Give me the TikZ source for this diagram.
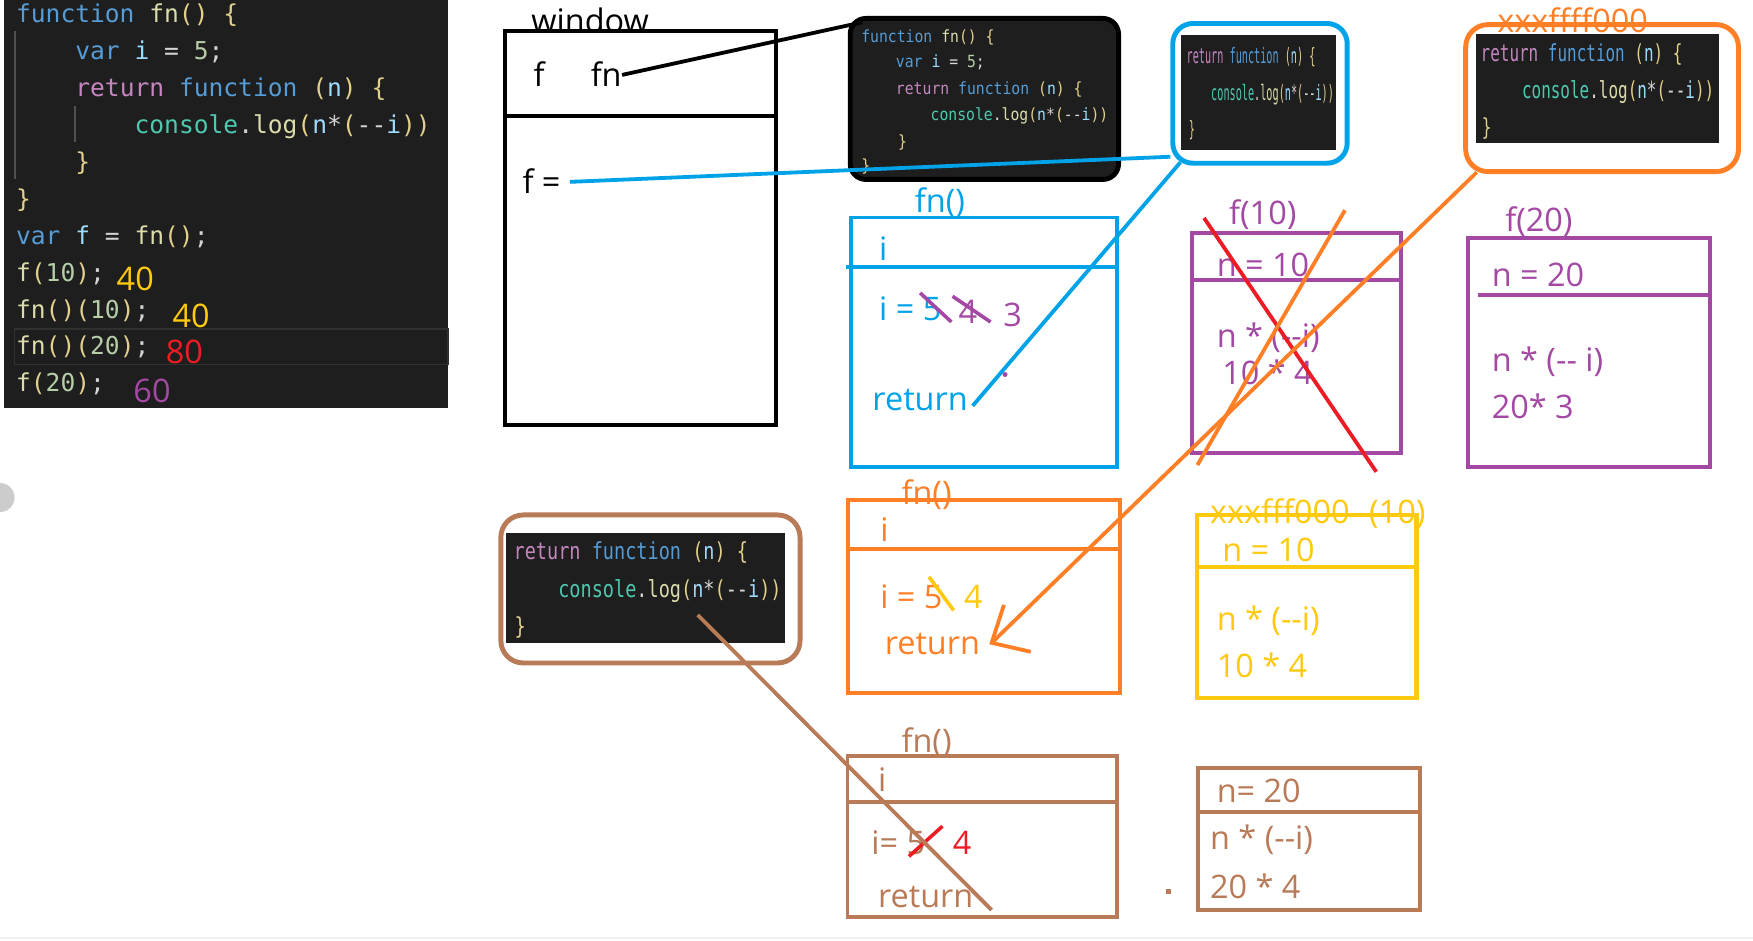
\documentclass[tikz,border=0pt]{standalone}
\usepackage{fontspec}
\usepackage{xcolor}
\setmainfont{Open Sans}
\newfontfamily\handfont[Ligatures=TeXOff]{Open Sans}
\newfontfamily\jsfont[Ligatures=TeXOff]{DejaVu Sans Mono}
\newfontfamily\jsfontA[Ligatures=TeXOff,FakeStretch=0.88]{DejaVu Sans Mono}
\newfontfamily\jsfontB[Ligatures=TeXOff,FakeStretch=0.48]{DejaVu Sans Mono}
\newfontfamily\jsfontC[Ligatures=TeXOff,FakeStretch=0.68]{DejaVu Sans Mono}
\newfontfamily\jsfontD[Ligatures=TeXOff,FakeStretch=0.79]{DejaVu Sans Mono}
\usetikzlibrary{positioning}

% editor colours
\definecolor{codebg}{HTML}{1E1E1E}
\definecolor{jskw}{HTML}{569CD6}
\definecolor{jsret}{HTML}{C586C0}
\definecolor{jsfn}{HTML}{DCDCAA}
\definecolor{jsvar}{HTML}{9CDCFE}
\definecolor{jsnum}{HTML}{B5CEA8}
\definecolor{jscls}{HTML}{4EC9B0}
\definecolor{jsp}{HTML}{D4D4D4}
\definecolor{jsbr}{HTML}{E2D08C}
% pen colours
\definecolor{pblue}{HTML}{00A2E8}
\definecolor{ppurple}{HTML}{A349A4}
\definecolor{porange}{HTML}{FF7F27}
\definecolor{pred}{HTML}{ED1C24}
\definecolor{pyellow}{HTML}{FFC90E}
\definecolor{pbrown}{HTML}{B97A57}

\newcommand\jK[1]{\textcolor{jskw}{#1}}
\newcommand\jR[1]{\textcolor{jsret}{#1}}
\newcommand\jF[1]{\textcolor{jsfn}{#1}}
\newcommand\jV[1]{\textcolor{jsvar}{#1}}
\newcommand\jN[1]{\textcolor{jsnum}{#1}}
\newcommand\jC[1]{\textcolor{jscls}{#1}}
\newcommand\jP[1]{\textcolor{jsp}{#1}}
\newcommand\jB[1]{\textcolor{jsbr}{#1}}
\newcommand\retline{\jR{return} \jK{function} \jB{(}\jV{n}\jB{)} \jB{\{}}
\newcommand\logline{\jC{console}\jP{.}\jF{log}\jB{(}\jV{n}\jP{*}\jB{(}\jP{-{}-}\jV{i}\jB{))}}

\begin{document}
\begin{tikzpicture}[x=0.5pt, y=-0.5pt,
    pen/.style={line width=1.7pt},
    bluepen/.style={pblue, line width=1.7pt},
    orangepen/.style={porange, line width=1.7pt},
    brownpen/.style={pbrown, line width=1.7pt},
    hand/.style={font=\handfont\fontsize{14.5}{16}\selectfont, anchor=west, inner sep=0pt, text height=13pt, text depth=3pt},
    jsmain/.style={font=\jsfont\fontsize{11}{13}\selectfont, anchor=west, inner sep=0pt, text height=11pt, text depth=2.5pt},
    jsA/.style={font=\jsfontA\fontsize{7.5}{9}\selectfont, anchor=west, inner sep=0pt, text height=6.5pt, text depth=1.7pt},
    jsB/.style={font=\jsfontB\fontsize{9.5}{11}\selectfont, anchor=west, inner sep=0pt, text height=8pt, text depth=2.1pt},
    jsC/.style={font=\jsfontC\fontsize{10.5}{12}\selectfont, anchor=west, inner sep=0pt, text height=8.7pt, text depth=2.3pt},
    jsD/.style={font=\jsfontD\fontsize{10.5}{12}\selectfont, anchor=west, inner sep=0pt, text height=8.7pt, text depth=2.3pt},
    snapbox/.style={rounded corners=9pt, line width=2.2pt, inner sep=0pt},
]
\useasboundingbox (0,0) rectangle (1568,841);
\fill[white] (0,0) rectangle (1568,841);
\fill[gray!40] (0,445) circle (13);
\draw[gray!12, line width=1pt] (0,839) -- (1568,839);

% source code
\fill[codebg] (4,0) rectangle (401,365);
\draw[white!22!codebg, line width=0.6pt] (13.5,28) -- (13.5,160) (67,95) -- (67,127);
\draw[white!8!codebg, line width=0.8pt] (13,294) rectangle (401,326);
\node[jsmain] (l1) at (14,12) {\jK{function} \jF{fn}\jB{() \{}};
\node[jsmain] (l2) at (67,45) {\jK{var} \jV{i} \jP{=} \jN{5}\jP{;}};
\node[jsmain] (l3) at (67,78) {\retline};
\node[jsmain] (l4) at (120,111) {\logline};
\node[jsmain] (l5) at (67,144) {\jB{\}}};
\node[jsmain] (l6) at (14,177) {\jB{\}}};
\node[jsmain] (l7) at (14,210) {\jK{var} \jV{f} \jP{=} \jF{fn}\jB{()}\jP{;}};
\node[jsmain] (l8) at (14,243) {\jF{f}\jB{(}\jN{10}\jB{)}\jP{;}};
\node[jsmain] (l9) at (14,276) {\jF{fn}\jB{()(}\jN{10}\jB{)}\jP{;}};
\node[jsmain] (l10) at (14,309) {\jF{fn}\jB{()(}\jN{20}\jB{)}\jP{;}};
\node[jsmain] (l11) at (14,342) {\jF{f}\jB{(}\jN{20}\jB{)}\jP{;}};
\node[hand, text=pyellow] (r1) at (104,250) {40};
\node[hand, text=pyellow] (r2) at (154,283) {40};
\node[hand, text=pred] (r3) at (148,315) {80};
\node[hand, text=ppurple] (r4) at (119,350) {60};

% window
\draw[pen] (451.5,28) rectangle (694,380);
\draw[pen] (451.5,104) -- (694,104);
\node[hand] (win) at (475,19) {window};
\node[hand] (fvar) at (477,67) {f};
\node[hand] (fnname) at (528,67) {fn};
\node[hand] (feq) at (467,163) {f =};

% fn snapshot
\node[snapbox, draw=black, fill=codebg, minimum width=120pt, minimum height=72pt, rounded corners=7pt] (fncode) at (880.5,88.5) {};
\node[jsA] (c1) at (770,33) {\jK{function} \jF{fn}\jB{() \{}};
\node[jsA] (c2) at (801,56) {\jK{var} \jV{i} \jP{=} \jN{5}\jP{;}};
\node[jsA] (c3) at (801,80) {\retline};
\node[jsA] (c4) at (832,103) {\logline};
\node[jsA] (c5) at (803,127) {\jB{\}}};
\node[jsA] (c6) at (770,149) {\jB{\}}};

% returned function, blue
\node[snapbox, draw=pblue, minimum width=78pt, minimum height=62.5pt] (retblue) at (1127,83.5) {};
\fill[codebg] (1056,31) rectangle (1195,134);
\node[jsB] (b1) at (1061,51) {\retline};
\node[jsB] (b2) at (1083,84) {\logline};
\node[jsB] (b3) at (1063,116) {\jB{\}}};

% returned function, orange
\node[snapbox, draw=porange, minimum width=122pt, minimum height=65.75pt, rounded corners=10pt] (retorange) at (1433,87.75) {};
\node[hand, text=porange] (addr1) at (1339,19) {xxxffff000};
\fill[codebg] (1320,30) rectangle (1538,128);
\node[jsC] (o1) at (1324,49) {\retline};
\node[jsC] (o2) at (1361,82) {\logline};
\node[jsC] (o3) at (1325,115) {\jB{\}}};

% returned function, brown
\node[snapbox, draw=pbrown, minimum width=133.8pt, minimum height=66.2pt, rounded corners=10pt] (retbrown) at (581.8,526.8) {};
\fill[codebg] (452.8,477) rectangle (702,575);
\node[jsD] (w1) at (459,494) {\retline};
\node[jsD] (w2) at (499,528) {\logline};
\node[jsD] (w3) at (460,561) {\jB{\}}};

% fn() call, blue
\draw[bluepen] (761,194.5) rectangle (999,417.5);
\draw[bluepen] (757,239) -- (1001,239);
\node[hand, text=pblue] (bfn) at (818,180) {fn()};
\node[hand, text=pblue] (bi) at (786,223) {i};
\node[hand, text=pblue] (bval) at (786,277) {i = 5};
\node[hand, text=ppurple] (bfour) at (857,279) {4};
\node[hand, text=ppurple] (bthree) at (897,282) {3};
\draw[ppurple, line width=1.6pt] (823,262) -- (851,288) (852,265) -- (886,288);
\fill[ppurple] (899,335) circle (2.2);
\node[hand, text=pblue] (bret) at (780,357) {return};

% f(10), purple
\draw[ppurple, line width=1.7pt] (1066.5,208.6) rectangle (1253,405.5);
\draw[ppurple, line width=1.7pt] (1066.5,250.4) -- (1253,250.4);
\node[hand, text=ppurple] (pf10) at (1099,191) {f(10)};
\node[hand, text=ppurple] (pn10) at (1088,237) {n = 10};
\node[hand, text=ppurple] (pex10) at (1088,301) {n * (-{}-i)};
\node[hand, text=ppurple] (pres10) at (1093,334) {10 * 4};

% f(20), purple
\draw[ppurple, line width=1.7pt] (1313,213) rectangle (1529.6,417.5);
\draw[ppurple, line width=1.7pt] (1322,264) -- (1529.6,264);
\node[hand, text=ppurple] (pf20) at (1346,197) {f(20)};
\node[hand, text=ppurple] (pn20) at (1334,246) {n = 20};
\node[hand, text=ppurple] (pex20) at (1334,322) {n * (-{}- i)};
\node[hand, text=ppurple] (pres20) at (1334,364) {20* 3};

% fn() call, orange
\draw[orangepen] (758.6,447) rectangle (1002,620);
\draw[orangepen] (758.6,491) -- (1003,491);
\node[hand, text=porange] (ofn) at (806,441) {fn()};
\node[hand, text=porange] (oi) at (787,474) {i};
\node[hand, text=porange] (oval) at (787,534) {i = 5};
\draw[pyellow, line width=1.6pt] (831,516) -- (853,546);
\node[hand, text=pyellow] (ofour) at (862,534) {4};
\node[hand, text=porange] (oret) at (791,575) {return};

% xxxfff000 (10), yellow
\draw[pyellow, line width=1.8pt] (1070.5,460.6) rectangle (1267,624);
\draw[pyellow, line width=1.8pt] (1070.5,507) -- (1268,507);
\node[hand, text=pyellow] (yaddr) at (1082,458) {xxxfff000\hspace{0.6em}(10)};
\node[hand, text=pyellow] (yn) at (1093,492) {n = 10};
\node[hand, text=pyellow] (yex) at (1088,554) {n * (-{}-i)};
\node[hand, text=pyellow] (yres) at (1088,596) {10 * 4};

% fn() call, brown
\draw[brownpen] (758,676) rectangle (999,820);
\draw[brownpen] (758,717) -- (1001,717);
\node[hand, text=pbrown] (wfn) at (806,663) {fn()};
\node[hand, text=pbrown] (wi) at (785,698) {i};
\node[hand, text=pbrown] (wval) at (779,754) {i= 5};
\draw[pred, line width=1.6pt] (813,766) -- (843,739);
\node[hand, text=pred] (wfour) at (852,754) {4};
\node[hand, text=pbrown] (wret) at (785,802) {return};

% f(20) of the brown function
\draw[brownpen] (1071.5,687) rectangle (1270,814);
\draw[brownpen] (1071.5,726) -- (1270,726);
\node[hand, text=pbrown] (wn) at (1088,708) {n= 20};
\node[hand, text=pbrown] (wex) at (1082,750) {n * (-{}-i)};
\node[hand, text=pbrown] (wres) at (1082,794) {20 * 4};
\fill[pbrown] (1043,795) rectangle (1047,800);

% crossing out f(10)
\draw[pred, line width=1.7pt] (1077,195) -- (1231,422);
\draw[orangepen] (1203,188) -- (1071,416);

% references
\coordinate (fnhook) at ([xshift=6.5pt,yshift=-2.8pt]fncode.north west);
\coordinate (bluein) at ([yshift=4pt]retblue.south west);
\coordinate (blueout) at ([xshift=4.5pt,yshift=1.5pt]retblue.south west);
\coordinate (orangeout) at ([xshift=6pt,yshift=0.75pt]retorange.south west);
\coordinate (brownout) at (624,550);
\coordinate (btip) at ([xshift=2pt,yshift=-3pt]bret.east);
\coordinate (otip) at ([xshift=5pt]oret.east);
\coordinate (wtip) at ([xshift=8pt,yshift=-6pt]wret.east);
\draw[pen] (fnname.east) -- (fnhook);
\draw[bluepen, shorten <=4pt] (feq.east) -- (bluein);
\draw[bluepen] (blueout) -- (btip);
\draw[orangepen] (orangeout) -- (otip);
\draw[orangepen] (otip) ++(11,-34) -- (otip) -- ++(35,8);
\draw[brownpen] (brownout) -- (wtip);
\end{tikzpicture}
\end{document}
